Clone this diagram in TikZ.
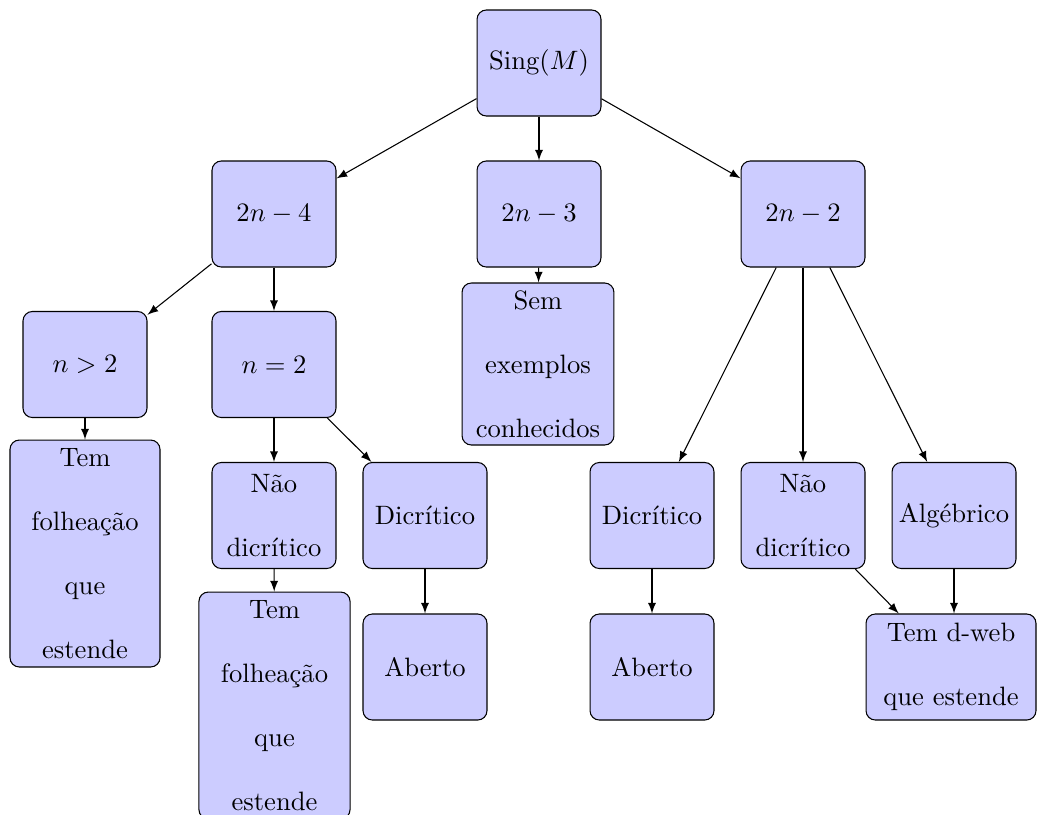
\documentclass[tikz,border=0pt]{standalone}
\usepackage{fontspec}
\begin{document}
\begin{tikzpicture}[x=0.37594pt,y=-0.37594pt,
  box/.style={draw=black,fill=blue!20,rounded corners=3.5pt,align=center,
    inner sep=2pt,minimum width=46.6pt,minimum height=39.85pt,
    font=\fontsize{10}{24}\selectfont},
  arr/.style={-latex,line width=0.4pt}]
\useasboundingbox (0,0) rectangle (1038,814);
\node[box] (sing) at (539,63) {Sing$(M)$};
\node[box] (a) at (274,214) {$2n-4$};
\node[box] (b) at (539,214) {$2n-3$};
\node[box] (c) at (803,214) {$2n-2$};
\node[box] (a1) at (85,364.5) {$n>2$};
\node[box] (a2) at (274,364.5) {$n=2$};
\node[box,minimum width=57.1pt,minimum height=60.9pt] (b1) at (538,364) {Sem\\exemplos\\conhecidos};
\node[box,minimum width=56.4pt,minimum height=85.3pt] (a11) at (85,553.5) {Tem\\folheação\\que\\estende};
\node[box] (a21) at (274,515.5) {Não\\dicrítico};
\node[box] (a22) at (425,515.5) {Dicrítico};
\node[box,minimum width=56.8pt,minimum height=85.3pt] (a211) at (274.5,705.5) {Tem\\folheação\\que\\estende};
\node[box] (a221) at (425,667) {Aberto};
\node[box] (c1) at (652,515.5) {Dicrítico};
\node[box] (c2) at (803,515.5) {Não\\dicrítico};
\node[box] (c3) at (954,515.5) {Algébrico};
\node[box] (c11) at (652,667) {Aberto};
\node[box,minimum width=63.9pt] (c31) at (951,667) {Tem d-web\\que estende};
\draw[arr] (sing) -- (a);
\draw[arr] (sing) -- (b);
\draw[arr] (sing) -- (c);
\draw[arr] (a) -- (a1);
\draw[arr] (a) -- (a2);
\draw[arr] (b) -- (b1);
\draw[arr] (c) -- (c1);
\draw[arr] (c) -- (c2);
\draw[arr] (c) -- (c3);
\draw[arr] (a1) -- (a11);
\draw[arr] (a2) -- (a21);
\draw[arr] (a2) -- (a22);
\draw[arr] (a21) -- (a211);
\draw[arr] (a22) -- (a221);
\draw[arr] (c1) -- (c11);
\draw[arr] (c2) -- (c31);
\draw[arr] (c3.south) -- (c3.south |- c31.north);
\end{tikzpicture}
\end{document}
